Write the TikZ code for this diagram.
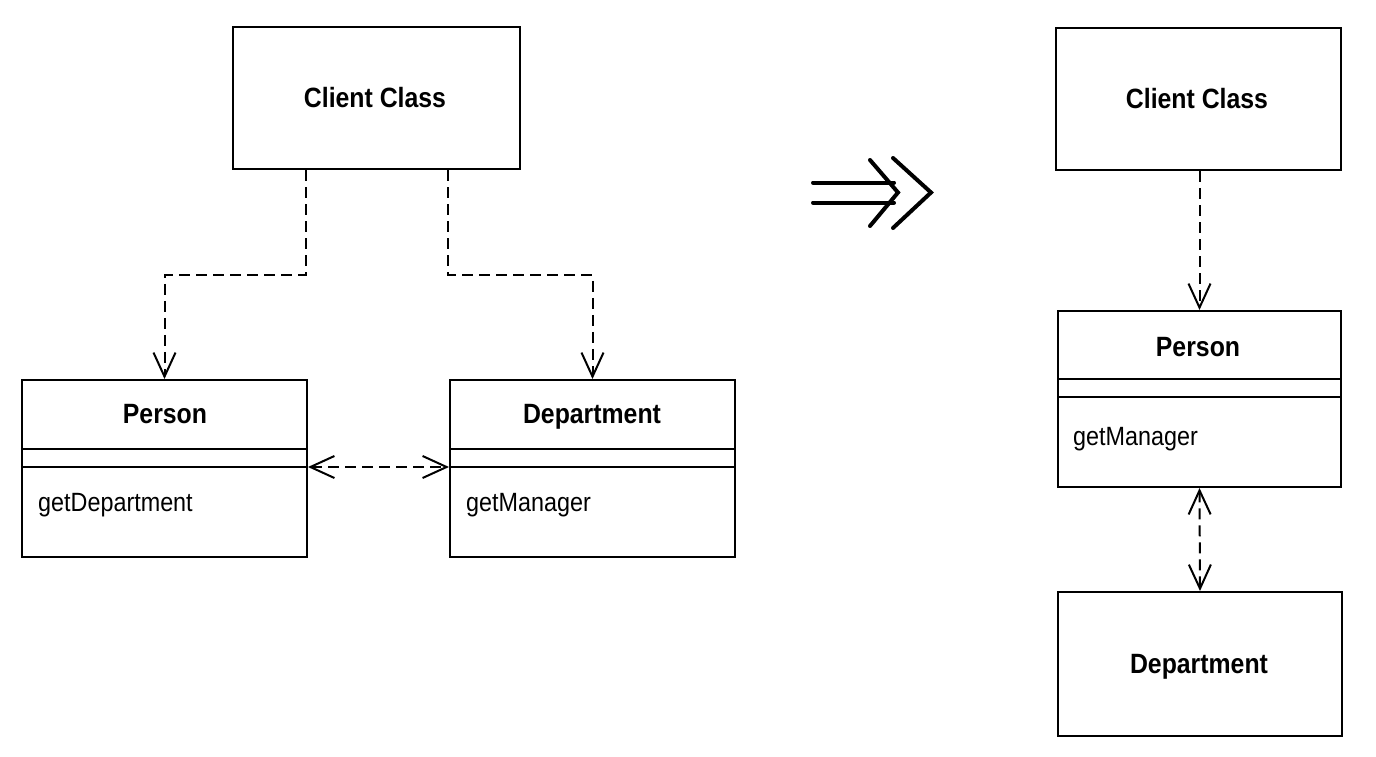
\documentclass[tikz,border=0pt]{standalone}
\usepackage{fontspec}
\setmainfont{Liberation Sans}
\newfontfamily\titlefont[FakeStretch=0.89]{Liberation Sans}
\newfontfamily\methfont[FakeStretch=0.885]{Liberation Sans}
\usetikzlibrary{arrows.meta,calc}
\tikzset{
  box/.style={draw, line width=2bp, inner sep=0pt, rectangle},
  title/.style={font=\titlefont\fontsize{28}{32}\selectfont\bfseries, inner sep=0pt, anchor=base},
  meth/.style={font=\methfont\fontsize{26.5}{30}\selectfont, inner sep=0pt, anchor=base west},
  dep/.style={line width=2bp, dash pattern=on 11bp off 6bp},
  open/.style={-{Straight Barb[length=24bp,width=22bp,line width=2bp]}},
  both/.style={{Straight Barb[length=24bp,width=22bp,line width=2bp]}-{Straight Barb[length=24bp,width=22bp,line width=2bp]}},
  sym/.style={line width=4bp, line cap=round, line join=miter}
}
\begin{document}
\begin{tikzpicture}[x=1bp,y=-1bp]
\useasboundingbox (0,0) rectangle (1376,756);
% ---------- left diagram ----------
\node[box, minimum width=287bp, minimum height=142bp] (cl) at (376.5,98) {};
\node[title] (clt) at (375,107) {Client Class};

\node[box, minimum width=285bp, minimum height=177bp] (pl) at (164.5,468.5) {};
\node[title] (plt) at (165,423.5) {Person};
\draw[line width=2bp] ([yshift=-70bp]pl.north west) -- ([yshift=-70bp]pl.north east);
\draw[line width=2bp] ([yshift=-88bp]pl.north west) -- ([yshift=-88bp]pl.north east);
\node[meth] (plm) at (38,511) {getDepartment};

\node[box, minimum width=285bp, minimum height=177bp] (dl) at (592.5,468.5) {};
\node[title] (dlt) at (592,423.5) {Department};
\draw[line width=2bp] ([yshift=-70bp]dl.north west) -- ([yshift=-70bp]dl.north east);
\draw[line width=2bp] ([yshift=-88bp]dl.north west) -- ([yshift=-88bp]dl.north east);
\node[meth] (dlm) at (466,511) {getManager};

\draw[dep, open] ($(cl.south west)!0.255!(cl.south east)$) -- ++(0,105) -| (pl.north);
\draw[dep, open] ($(cl.south west)!0.749!(cl.south east)$) -- ++(0,105) -| (dl.north);
\draw[dep, both] ([yshift=-88bp]pl.north east) -- ([yshift=-88bp]dl.north west);

% ---------- transformation symbol ----------
\draw[sym] (813,182.5) -- (894,182.5);
\draw[sym] (813,202.5) -- (894,202.5);
\draw[sym] (870,160) -- (898,192.5) -- (870,226);
\draw[sym] (893,158) -- (931,192.5) -- (893,228);

% ---------- right diagram ----------
\node[box, minimum width=285bp, minimum height=142bp] (cr) at (1198,99) {};
\node[title] (crt) at (1197,108) {Client Class};

\node[box, minimum width=283bp, minimum height=176bp] (pr) at (1199.5,399) {};
\node[title] (prt) at (1198,356.5) {Person};
\draw[line width=2bp] ([yshift=-69bp]pr.north west) -- ([yshift=-69bp]pr.north east);
\draw[line width=2bp] ([yshift=-87bp]pr.north west) -- ([yshift=-87bp]pr.north east);
\node[meth] (prm) at (1073,445) {getManager};

\node[box, minimum width=284bp, minimum height=144bp] (dr) at (1200,664) {};
\node[title] (drt) at (1199,673) {Department};

\draw[dep, open] (cr.south -| pr.north) -- (pr.north);
\draw[dep, both] (pr.south) -- (dr.north);
\end{tikzpicture}
\end{document}
